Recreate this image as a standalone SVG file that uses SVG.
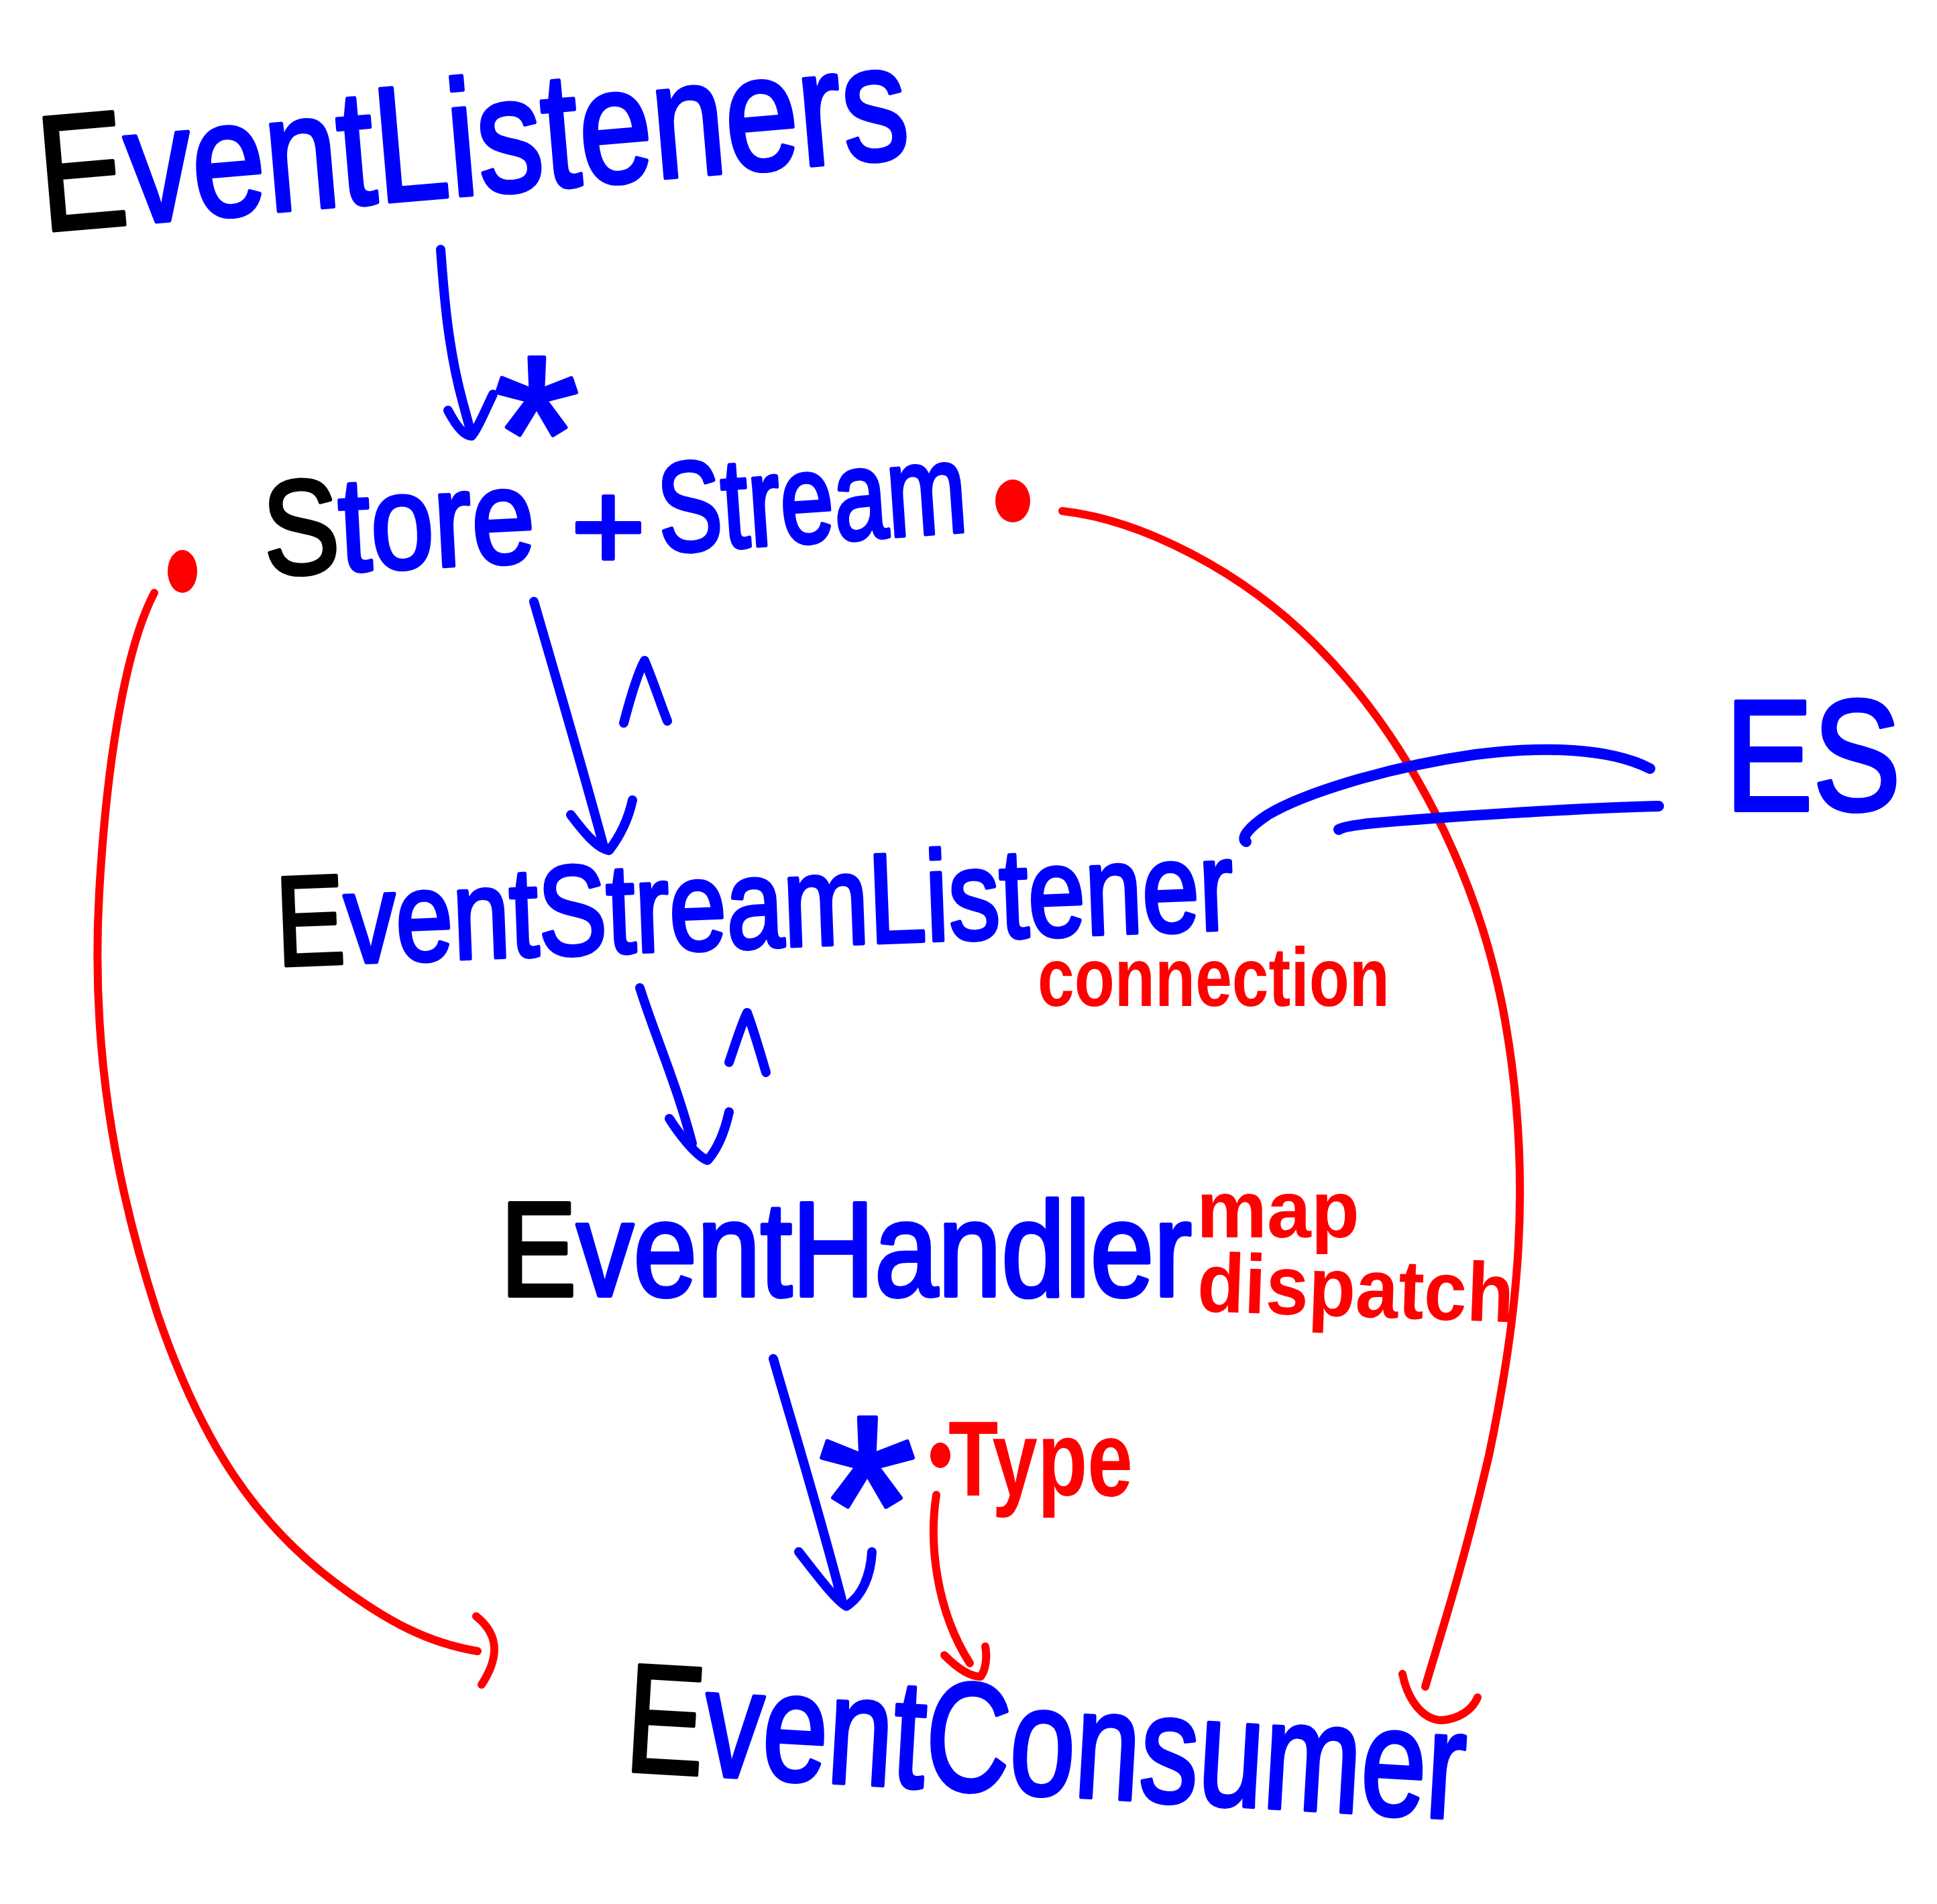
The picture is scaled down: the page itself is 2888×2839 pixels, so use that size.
<svg xmlns="http://www.w3.org/2000/svg" width="2888" height="2839" viewBox="0 0 2888 2839">
<style>
.t{font-family:"Liberation Sans","DejaVu Sans",sans-serif;stroke-linejoin:round}
.b{fill:#0000ff;stroke:#0000ff;stroke-width:6}
.k{fill:#000000;stroke:#000000;stroke-width:6}
.r{fill:#ff0000;font-weight:bold}
.c{fill:none;stroke-linecap:round;stroke-linejoin:round}
.bl{stroke:#0000ff;stroke-width:14}
.bw{stroke:#0000ff;stroke-width:16}
.rd{stroke:#ff0000;stroke-width:12}
.dot{fill:#ff0000}
</style>
<rect width="2888" height="2839" fill="#ffffff"/>
<g id="connectors">
  <path class="c bl" d="M657,372 C662,440 668,520 690,600 L703,648"/>
  <path class="c bl" d="M668,612 C680,635 692,650 703,650 C712,640 722,615 735,588"/>
  <path class="c bl" d="M796,897 C820,980 870,1150 900,1262"/>
  <path class="c bl" d="M851,1215 C870,1240 890,1265 908,1268 C922,1250 936,1225 943,1193"/>
  <path class="c bl" d="M930,1078 C940,1040 950,1005 961,985 C972,1010 985,1050 995,1075"/>
  <path class="c bl" d="M954,1473 C975,1540 1010,1620 1032,1705"/>
  <path class="c bl" d="M998,1668 C1015,1695 1040,1725 1055,1730 C1068,1715 1080,1690 1087,1658"/>
  <path class="c bl" d="M1087,1584 C1097,1555 1105,1528 1114,1510 C1125,1540 1135,1575 1142,1599"/>
  <path class="c bl" d="M1153,2026 C1180,2120 1220,2250 1255,2385"/>
  <path class="c bl" d="M1191,2314 C1215,2345 1245,2385 1262,2395 C1285,2380 1298,2350 1300,2314"/>
  <path class="c rd" d="M1396,2229 C1385,2300 1395,2400 1446,2480"/>
  <path class="c rd" d="M1408,2468 C1425,2485 1445,2500 1462,2500 C1470,2490 1472,2470 1469,2455"/>
  <ellipse class="dot" cx="272" cy="852" rx="22" ry="32"/>
  <path class="c rd" d="M230,884 C190,960 160,1120 148,1330 C135,1560 170,1760 235,1960 C300,2150 380,2270 500,2360 C580,2420 640,2450 712,2462"/>
  <path class="c rd" d="M710,2410 C735,2430 752,2460 718,2512"/>
  <ellipse class="dot" cx="1510" cy="747" rx="26" ry="32"/>
  <path class="c rd" d="M1584,762 C1700,775 1850,850 1960,960 C2100,1100 2200,1300 2240,1500 C2290,1760 2260,1980 2220,2170 C2180,2340 2150,2430 2125,2515"/>
  <path class="c rd" d="M2091,2496 C2100,2540 2125,2565 2150,2565 C2175,2563 2195,2550 2203,2531"/>
  <path class="c bw" d="M2460,1146 C2400,1115 2300,1112 2200,1125 C2060,1145 1940,1185 1890,1215 C1860,1235 1850,1250 1858,1255"/>
  <path class="c bw" d="M2473,1202 C2350,1205 2150,1218 2040,1228 C2015,1231 2000,1234 1996,1237"/>
  <ellipse class="dot" cx="1402" cy="2170" rx="15" ry="19"/>
</g>
<g id="eventlisteners">
  <text class="t b" x="64" y="345" font-size="245" textLength="1300" lengthAdjust="spacingAndGlyphs" transform="rotate(-4.9 64 345)"><tspan class="k">E</tspan><tspan class="b">ventListeners</tspan></text>
  <text class="t b" x="800" y="760" font-size="330" text-anchor="middle">*</text>
</g>
<g id="storestream">
  <text class="t" x="396" y="858" font-size="200" textLength="405" lengthAdjust="spacingAndGlyphs" transform="rotate(-3 396 858)" style="fill:#0000ff;stroke:#0000ff;stroke-width:6"><tspan style="fill:#000000;stroke:#000000">S</tspan><tspan style="fill:#0000ff;stroke:#0000ff">tore</tspan></text>
  <text class="t b" x="907" y="850" font-size="190" text-anchor="middle">+</text>
  <text class="t b" x="985" y="824" font-size="190" textLength="461" lengthAdjust="spacingAndGlyphs" transform="rotate(-4 985 824)">Stream</text>
</g>
<g id="eventstreamlistener">
  <text class="t b" x="414" y="1440" font-size="190" textLength="1428" lengthAdjust="spacingAndGlyphs" transform="rotate(-2.2 414 1440)"><tspan class="k">E</tspan><tspan class="b">ventStreamListener</tspan></text>
  <text class="t r" x="1547" y="1500" font-size="125" textLength="525" lengthAdjust="spacingAndGlyphs">connection</text>
</g>
<g id="es">
  <text class="t b" x="2572" y="1208" font-size="235" textLength="262" lengthAdjust="spacingAndGlyphs">ES</text>
</g>
<g id="eventhandler">
  <text class="t b" x="746" y="1932" font-size="200" textLength="1031" lengthAdjust="spacingAndGlyphs"><tspan class="k">E</tspan><tspan class="b">ventHandler</tspan></text>
  <text class="t r" x="1784" y="1845" font-size="120" textLength="243" lengthAdjust="spacingAndGlyphs">map</text>
  <text class="t r" x="1784" y="1955" font-size="125" textLength="472" lengthAdjust="spacingAndGlyphs" transform="rotate(2 1784 1955)">dispatch</text>
</g>
<g id="type">
  <text class="t b" x="1293" y="2375" font-size="380" text-anchor="middle">*</text>
  <text class="t r" x="1414" y="2230" font-size="160" textLength="275" lengthAdjust="spacingAndGlyphs">Type</text>
</g>
<g id="eventconsumer">
  <text class="t b" x="930" y="2640" font-size="230" textLength="1253" lengthAdjust="spacingAndGlyphs" transform="rotate(3.3 930 2640)"><tspan class="k">E</tspan><tspan class="b">ventConsumer</tspan></text>
</g>
</svg>
